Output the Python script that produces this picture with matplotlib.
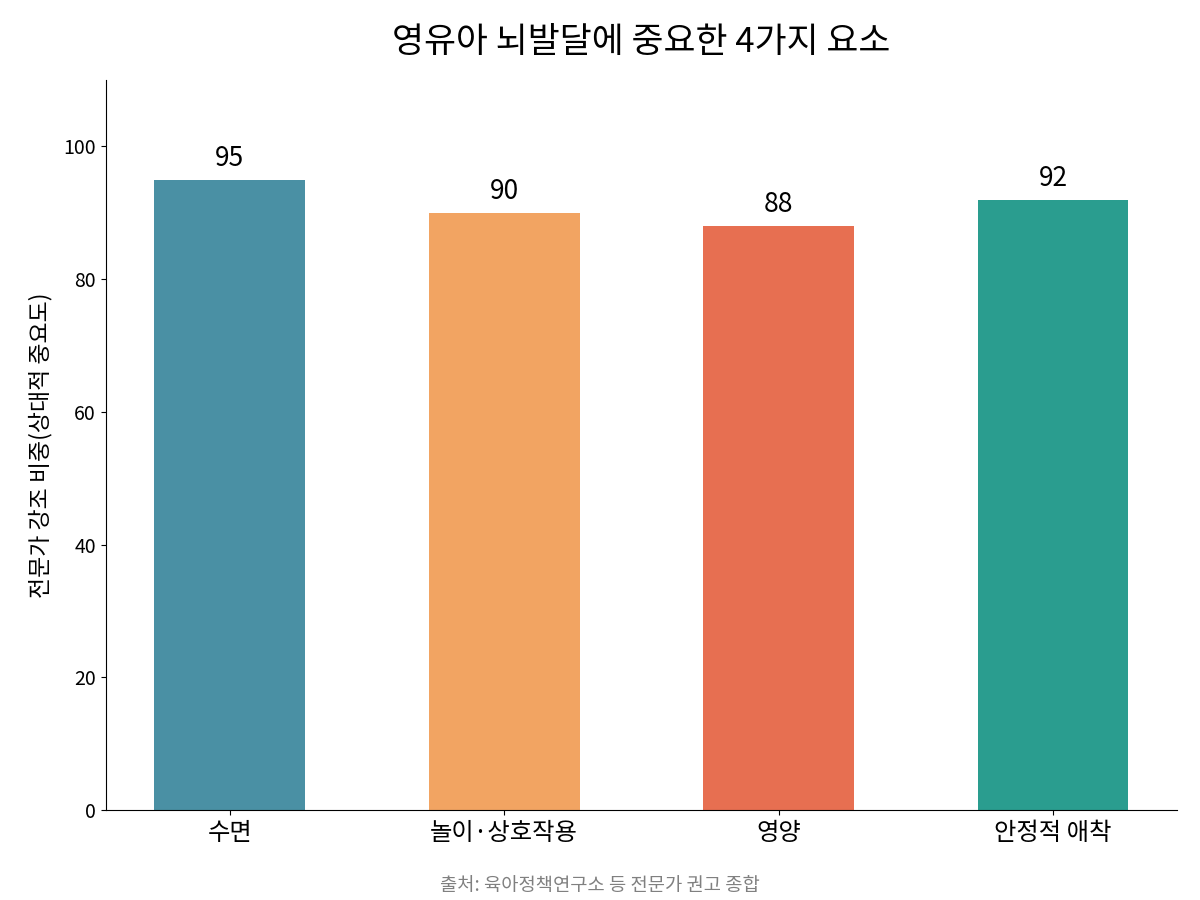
import matplotlib
matplotlib.use("Agg")
import matplotlib.pyplot as plt

plt.rcParams['font.family'] = ['Noto Sans CJK KR', 'DejaVu Sans']

categories = ["수면", "놀이·상호작용", "영양", "안정적 애착"]
values = [95, 90, 88, 92]
colors = ["#4a90a4", "#f2a462", "#e76f51", "#2a9d8f"]

fig, ax = plt.subplots(figsize=(12, 9), dpi=100)
fig.subplots_adjust(left=0.088, right=0.981, top=0.911, bottom=0.1)

bars = ax.bar(range(len(categories)), values, width=0.55, color=colors)
for b, v in zip(bars, values):
    ax.text(b.get_x() + b.get_width() / 2, v + 1.2, str(v),
            ha="center", va="bottom", fontsize=19)

ax.set_xticks(range(len(categories)))
ax.set_xticklabels(categories, fontsize=17.5)
ax.tick_params(axis="y", labelsize=14)
ax.set_ylim(0, 110)
ax.set_ylabel("전문가 강조 비중(상대적 중요도)", fontsize=16.5, labelpad=8)
ax.set_title("영유아 뇌발달에 중요한 4가지 요소", fontsize=25, pad=20)
ax.spines["top"].set_visible(False)
ax.spines["right"].set_visible(False)

fig.text(0.5, 0.01, "출처: 육아정책연구소 등 전문가 권고 종합", ha="center",
         fontsize=13.5, color="gray")

fig.savefig("out.png")
